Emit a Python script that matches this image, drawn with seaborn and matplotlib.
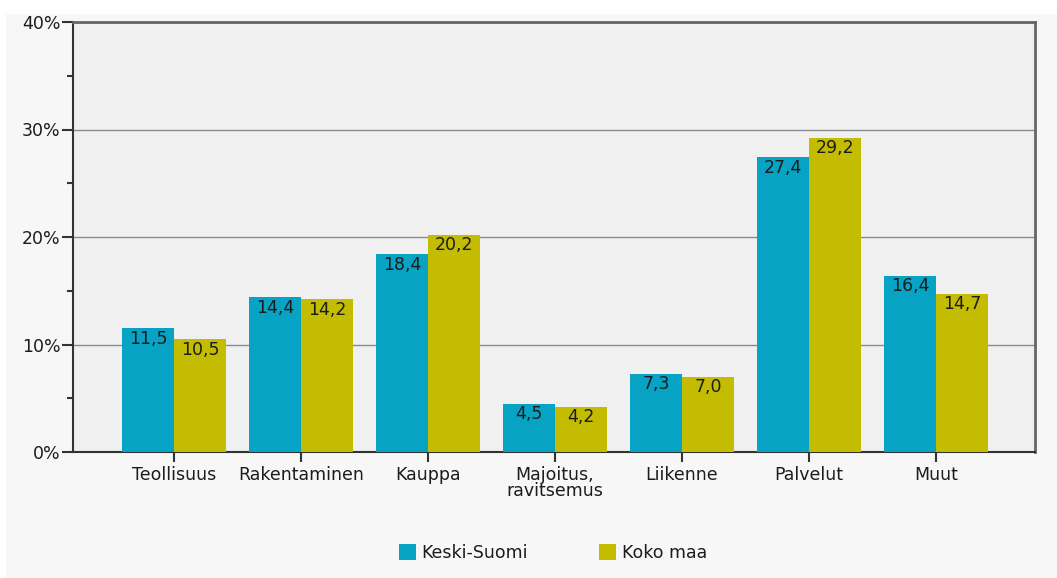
import numpy as np
import pandas as pd
import seaborn as sns
import matplotlib.pyplot as plt
from matplotlib.patches import Rectangle
from matplotlib.ticker import MultipleLocator, FuncFormatter

# data
categories = ["Teollisuus", "Rakentaminen", "Kauppa", "Majoitus,\nravitsemus",
              "Liikenne", "Palvelut", "Muut"]
keski_suomi = [11.5, 14.4, 18.4, 4.5, 7.3, 27.4, 16.4]
koko_maa = [10.5, 14.2, 20.2, 4.2, 7.0, 29.2, 14.7]
series_names = ["Keski-Suomi", "Koko maa"]
colors = ["#06a3c4", "#c4bc00"]

df = pd.DataFrame({
	"ala": categories * 2,
	"osuus": keski_suomi + koko_maa,
	"alue": [series_names[0]] * len(categories) + [series_names[1]] * len(categories),
})

sns.set_theme(style="white")
plt.rcParams['font.family'] = ['DejaVu Sans']
text_color = "#1c1c1c"
fsize = 12.5

fig = plt.figure(figsize=(10.57, 5.78), dpi=100, facecolor="white")
# light panel behind the chart
fig.patches.append(Rectangle((6 / 1057, 0), 1, 1 - 14 / 578, transform=fig.transFigure,
	facecolor="#f7f7f7", edgecolor="none", zorder=-10))

ax = fig.add_axes([73 / 1057, 1 - 452 / 578, (1035 - 73) / 1057, (452 - 22) / 578])
ax.set_facecolor("#f0f0f0")

sns.barplot(data=df, x="ala", y="osuus", hue="alue", palette=colors, width=0.82,
	gap=0, saturation=1, ax=ax, legend=False, zorder=3, linewidth=0, edgecolor="none")

# value labels inside the top of each bar
for container in ax.containers:
	for bar in container:
		h = bar.get_height()
		ax.annotate(f"{h:.1f}".replace(".", ","),
			(bar.get_x() + bar.get_width() / 2, h), xytext=(0, -1),
			textcoords="offset points", ha="center", va="top",
			fontsize=fsize, color=text_color, zorder=4)

ax.set_ylim(0, 40)
ax.set_xlim(-0.795, 6.78)
ax.yaxis.set_major_locator(MultipleLocator(10))
ax.yaxis.set_minor_locator(MultipleLocator(5))
ax.yaxis.set_major_formatter(FuncFormatter(lambda v, p: f"{v:.0f}%"))
ax.grid(axis="y", which="major", color="#8a8a8a", linewidth=1, zorder=0)
ax.set_axisbelow(True)

ax.tick_params(axis="y", which="major", length=8, width=1.5, color="#333333",
	labelsize=fsize, labelcolor=text_color, left=True, pad=1)
ax.tick_params(axis="y", which="minor", length=4, width=1.5, color="#333333", left=True)
ax.tick_params(axis="x", length=7, width=1.5, color="#333333", labelsize=fsize,
	labelcolor=text_color, bottom=True, pad=3)
for lbl in ax.get_xticklabels():
	lbl.set_linespacing(0.85)

ax.set_xlabel("")
ax.set_ylabel("")
for side in ["left", "bottom"]:
	ax.spines[side].set_color("#333333")
	ax.spines[side].set_linewidth(1.5)
for side in ["top", "right"]:
	ax.spines[side].set_color("#666666")
	ax.spines[side].set_linewidth(2)

handles = [Rectangle((0, 0), 1, 1, facecolor=c, edgecolor="none") for c in colors]
fig.legend(handles, series_names, loc="center", bbox_to_anchor=(0.523, 1 - 553 / 578),
	ncol=2, frameon=False, fontsize=fsize, handlelength=1.0, handleheight=1.0,
	handletextpad=0.3, columnspacing=4.1, labelcolor=text_color)

fig.savefig("out.png", dpi=100, facecolor=fig.get_facecolor())
